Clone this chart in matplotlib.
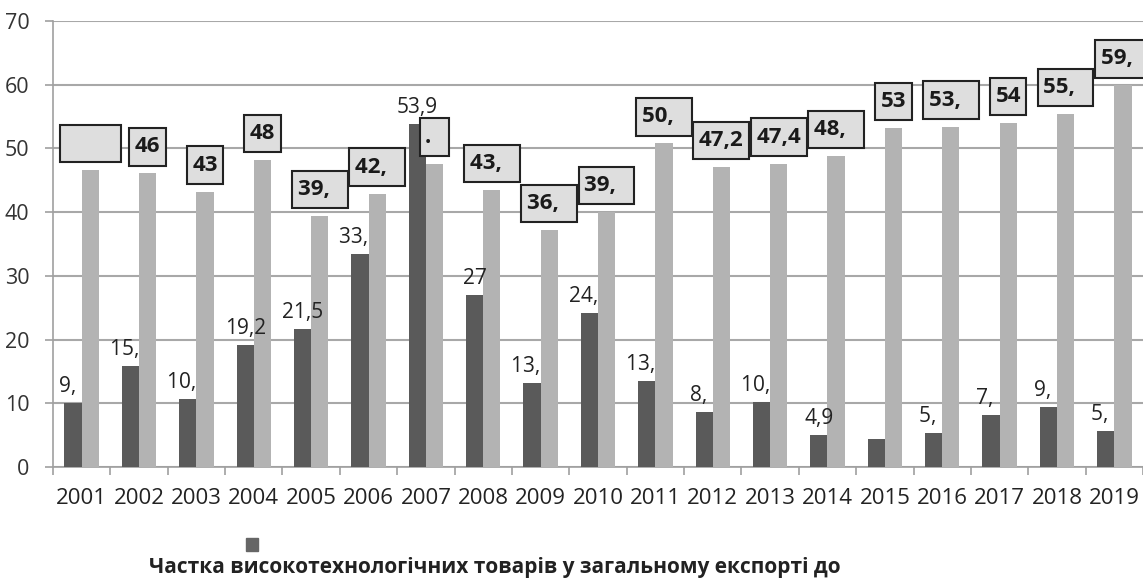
import matplotlib.pyplot as plt
import numpy as np

# data
years = [str(y) for y in range(2001, 2020)]
hitech = [10.1, 15.9, 10.6, 19.2, 21.7, 33.4, 53.9, 27.0, 13.2, 24.1, 13.5, 8.6, 10.2, 5.1, 4.4, 5.3, 8.1, 9.4, 5.6]
hitech_labels = ["9,", "15,", "10,", "19,2", "21,5", "33,", "53,9", "27", "13,", "24,", "13,", "8,", "10,",
                 "4,9", "", "5,", "7,", "9,", "5,"]
other = [46.6, 46.1, 43.2, 48.2, 39.4, 42.9, 47.6, 43.5, 37.2, 40.0, 50.8, 47.1, 47.6, 48.8, 53.2, 53.4, 54.0, 55.4, 59.9]
other_labels = ["", "46", "43", "48", "39,", "42,", ".", "43,", "36,", "39,", "50,", "47,2", "47,4", "48,",
                "53", "53,", "54", "55,", "59,"]
legend_text = "Частка високотехнологічних товарів у загальному експорті до"

FS = '\u2007'  # figure space keeps the cut-off label widths
plt.rcParams['font.family'] = ['Open Sans', 'DejaVu Sans']

fig = plt.figure(figsize=(11.43, 5.79), dpi=100)
ax = fig.add_axes([53 / 1143, 1 - 467 / 579, 1 - 53 / 1143, (467 - 21) / 579])

x = np.arange(len(years))
w = 0.3
ax.bar(x - w / 2, hitech, w, color='#5a5a5a', zorder=3)
ax.bar(x + w / 2, other, w, color='#b3b3b3', zorder=3)

# labels over dark bars
for xi, v, lab in zip(x, hitech, hitech_labels):
    if not lab:
        continue
    txt = lab + FS if lab.endswith(',') else lab
    ax.annotate(txt, (xi - w / 2, v), xytext=(0, 6), textcoords='offset pixels',
                ha='center', va='bottom', fontsize=15, color='#222222', zorder=5)

# boxed labels over light bars
for xi, v, lab in zip(x, other, other_labels):
    n = 4 if (lab.endswith(',') or not lab) else 2
    txt = lab.ljust(n, FS)
    ax.annotate(txt, (xi + w / 2, v), xytext=(0, 16), textcoords='offset pixels',
                ha='center', va='bottom', fontsize=16, fontweight='bold', color='#1a1a1a', zorder=6,
                bbox=dict(boxstyle='square,pad=0.25', fc='#dedede', ec='#222222', lw=1.5,
                          mutation_aspect=1.5))

ax.set_xlim(-0.5, len(years) - 0.5)
ax.set_ylim(0, 70)
ax.set_yticks(range(0, 80, 10))
ax.set_xticks(x)
ax.set_xticklabels(years)
ax.set_xticks(np.arange(-0.5, len(years), 1), minor=True)
ax.tick_params(axis='x', which='major', length=0, labelsize=16, colors='#222222', pad=15)
ax.tick_params(axis='x', which='minor', length=6, color='#a0a0a0', width=1.2, direction='out')
ax.tick_params(axis='y', length=6, color='#a0a0a0', width=1.2, labelsize=15.5, colors='#333333', pad=11)
ax.grid(axis='y', color='#a8a8a8', lw=1.5, zorder=0)
for s in ['top', 'right']:
    ax.spines[s].set_visible(False)
for s in ['left', 'bottom']:
    ax.spines[s].set_color('#a0a0a0')
    ax.spines[s].set_linewidth(1.2)

# legend drawn by hand: marker above, wrapped text below
fig.patches.append(plt.Rectangle((246 / 1143, 1 - 551 / 579), 12 / 1143, 13 / 579,
                                 transform=fig.transFigure, color='#666666'))
fig.text(495 / 1143, 1 - 567 / 579, legend_text, ha='center', va='center',
         fontsize=15, fontweight='bold', color='#222222')

fig.savefig('out.png', dpi=100)
